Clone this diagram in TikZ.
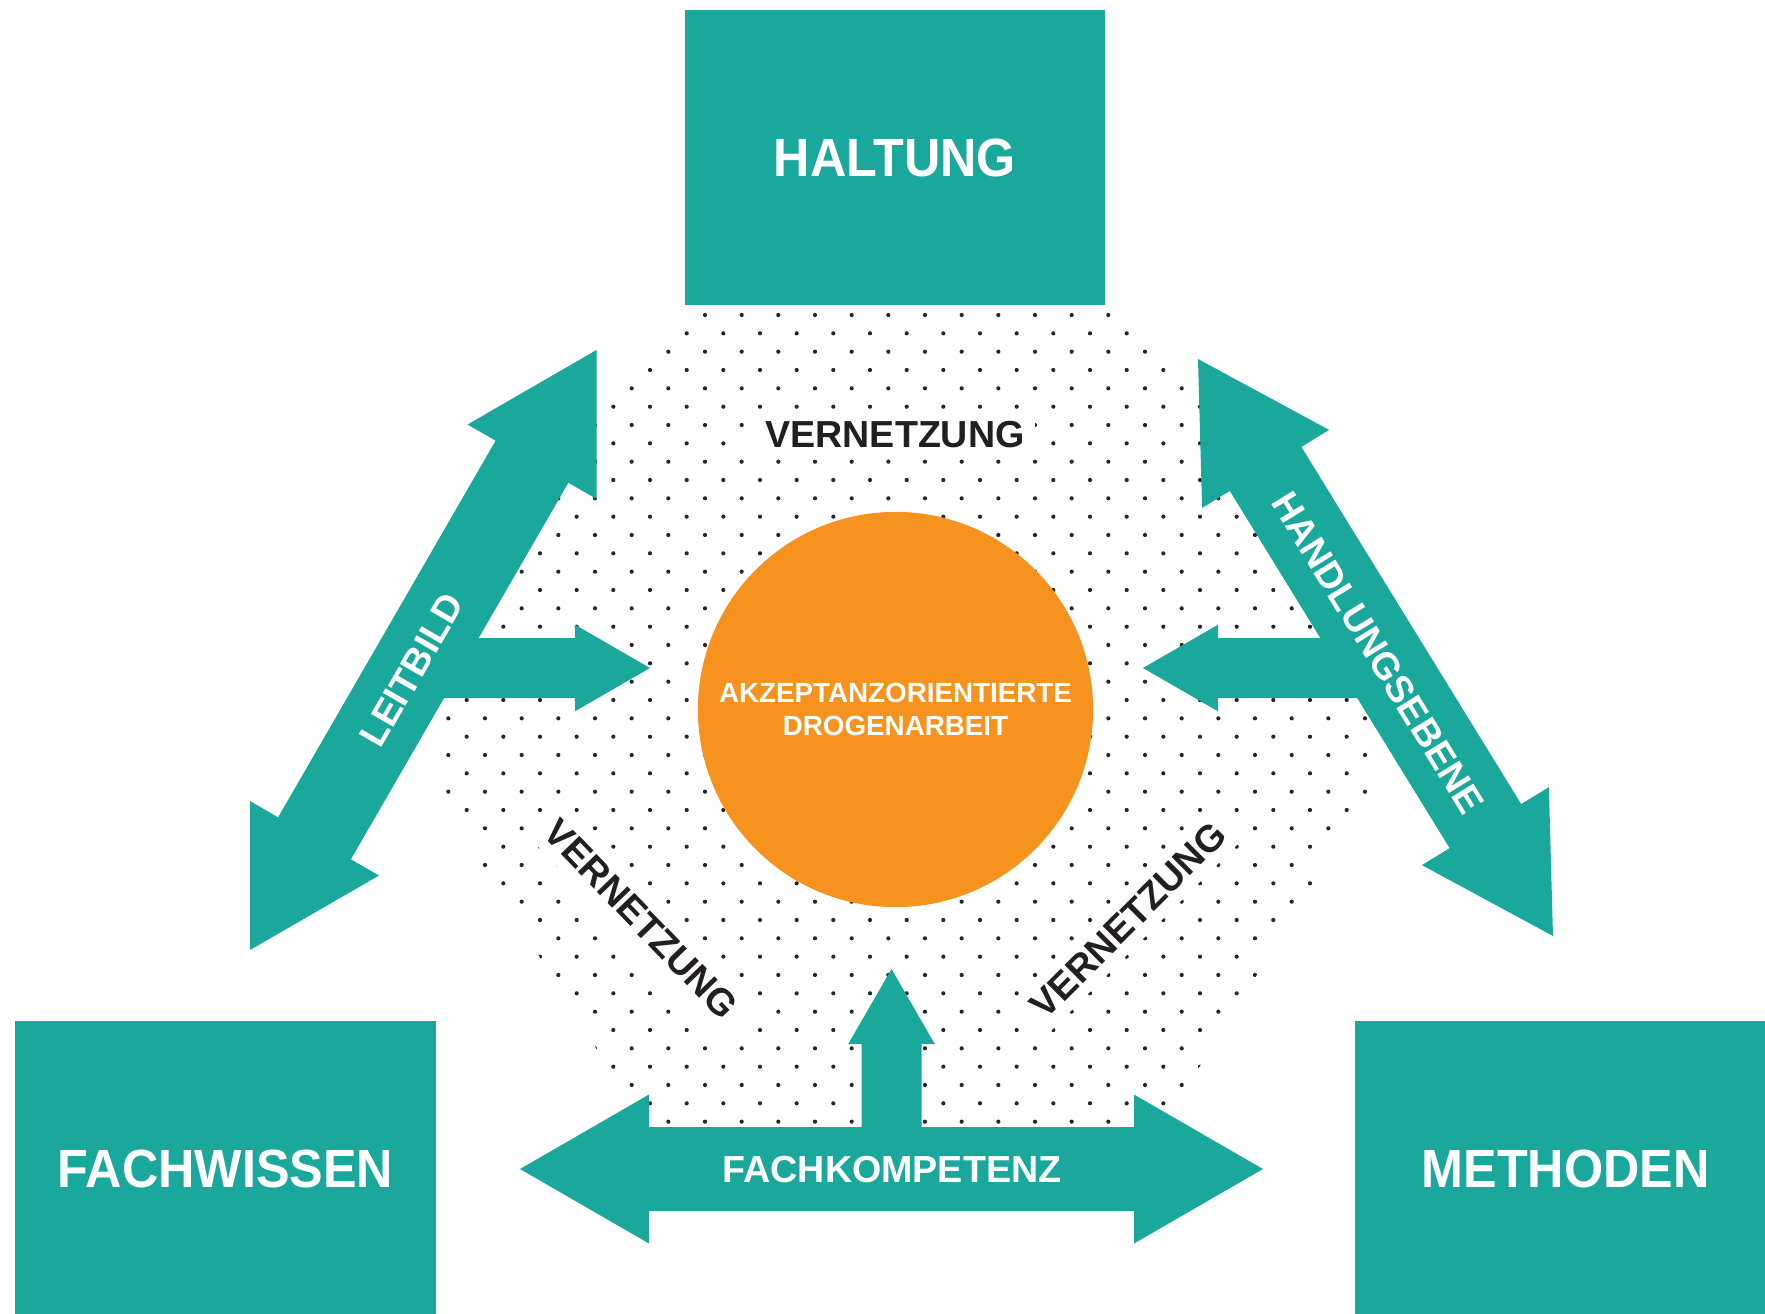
\documentclass[tikz,border=0pt]{standalone}
\usepackage{fontspec}
\setmainfont{Liberation Sans}
\newfontfamily\boxfont{Liberation Sans}[FakeStretch=0.935]
\usepackage{tikz}

\definecolor{petrol}{RGB}{26,168,156}
\definecolor{orangefill}{RGB}{246,147,30}
\definecolor{darktext}{RGB}{35,31,32}

\tikzset{
  block/.style={fill=petrol, text=white, inner sep=0pt,
    minimum width=4.2cm, minimum height=2.95cm,
    font=\boxfont\bfseries\fontsize{15.3}{18}\selectfont},
  arrowlabel/.style={text=white, inner sep=0pt,
    font=\bfseries\fontsize{10.7}{12}\selectfont},
  netlabel/.style={fill=white, text=darktext, inner sep=3pt,
    font=\bfseries\fontsize{10.7}{12}\selectfont},
}

\begin{document}
\begin{tikzpicture}[x=0.01cm, y=-0.01cm]
\useasboundingbox (0,0) rectangle (1765,1314);

% dotted field behind everything
\begin{scope}
\clip (706,305) -- (1104,305) -- (1206,407) -- (1372,650) -- (1372,790)
  -- (1162,1127) -- (645,1127) -- (436,790) -- (436,650) -- (604,407) -- cycle;
\foreach \j in {0,...,44}
  \foreach \m in {-8,...,19}
    \fill[black!85] ({705-18.333*mod(\j,2)+36.667*\m},{315+18.333*\j}) circle (0.6pt);
\end{scope}

\node[block] (haltung) at (895,157.5) {HALTUNG};
\node[block] (fachwissen) at (225.5,1168.5) {FACHWISSEN};
\node[block] (methoden) at (1565.5,1168.5) {METHODEN};

% left arrow with branch
\fill[petrol] (596.5,350) -- (596.5,499) -- (568.4,482.7) -- (478.7,638) -- (575,638)
  -- (575,624.7) -- (650,668) -- (575,711.3) -- (575,698) -- (444.1,698)
  -- (350.9,859.3) -- (379,875.5) -- (250,950) -- (250,801) -- (278.1,817.3)
  -- (495.6,440.7) -- (467.5,424.5) -- cycle;

% right arrow with branch
\fill[petrol] (1198,359) -- (1329.1,429.9) -- (1301.4,446.9) -- (1521.2,804.1)
  -- (1548.9,787.1) -- (1553,936) -- (1421.9,865.1) -- (1449.6,848.1)
  -- (1357.2,698) -- (1218,698) -- (1218,711.3) -- (1143,668) -- (1218,624.7)
  -- (1218,638) -- (1320.3,638) -- (1229.8,490.9) -- (1202.1,507.9) -- cycle;

% bottom arrow with branch
\fill[petrol] (520,1169) -- (649,1094.5) -- (649,1127) -- (861.5,1127) -- (861.5,1044)
  -- (848.2,1044) -- (891.5,969) -- (934.8,1044) -- (921.5,1044) -- (921.5,1127)
  -- (1134,1127) -- (1134,1094.5) -- (1263,1169) -- (1134,1243.5) -- (1134,1211)
  -- (649,1211) -- (649,1243.5) -- cycle;

\node[circle, fill=orangefill, minimum size=3.95cm, inner sep=0pt, text=white,
  align=center, font=\bfseries\fontsize{7.9}{9.4}\selectfont]
  (drogenarbeit) at (895.5,709.5) {AKZEPTANZORIENTIERTE\\DROGENARBEIT};

\node[netlabel] (vernetzungO) at (895,435) {VERNETZUNG};
\node[netlabel, rotate=-46] (vernetzungL) at (641,919) {VERNETZUNG};
\node[netlabel, rotate=45] (vernetzungR) at (1128,920) {VERNETZUNG};

\node[arrowlabel, rotate=60] (leitbild) at (412,670) {LEITBILD};
\node[arrowlabel, rotate=-58.4] (handlungsebene) at (1378,653) {HANDLUNGSEBENE};
\node[arrowlabel] (fachkompetenz) at (892,1170) {FACHKOMPETENZ};
\end{tikzpicture}
\end{document}
